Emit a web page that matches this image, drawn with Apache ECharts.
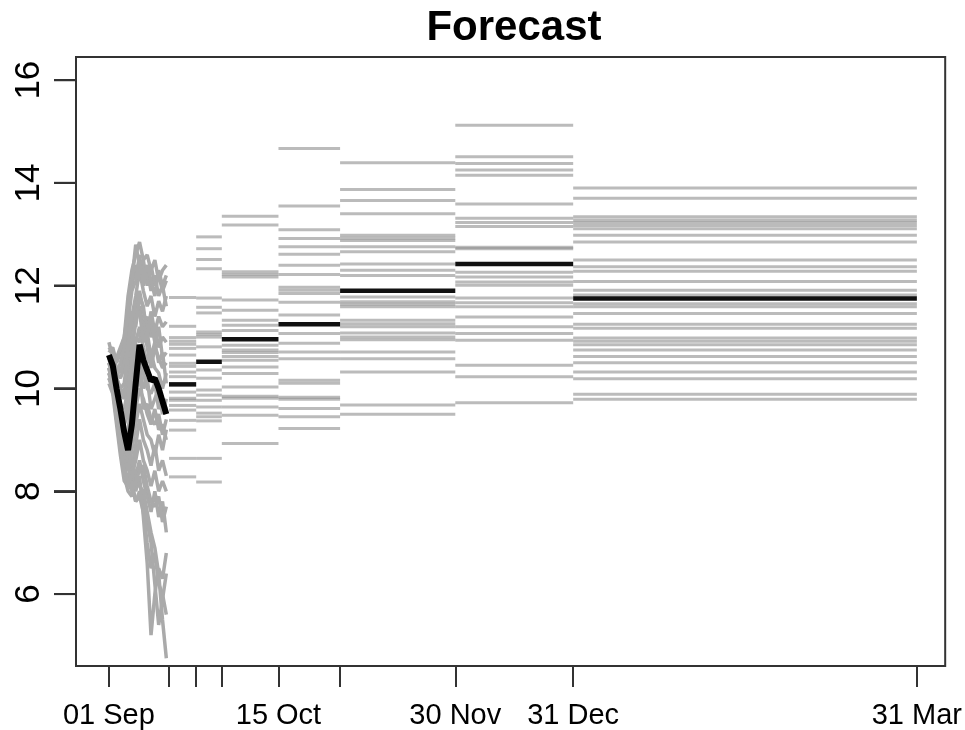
<!DOCTYPE html>
<html>
<head>
<meta charset="utf-8">
<script src="https://cdn.jsdelivr.net/npm/echarts@6/dist/echarts.min.js"></script>
<style>html,body{margin:0;padding:0;background:#fff}#c{width:965px;height:730px}</style>
</head>
<body>
<div id="c"></div>
<script>
// ---- x axis: days since 01 Sep ----
const X_MIN = -8.6, X_MAX = 218.5;
const Y_MIN = 4.6, Y_MAX = 16.45;
const tickDays = [0, 15.7, 22.8, 29.5, 44.3, 60.4, 90.5, 121.3, 211.1];
const labelDays = [0, 44.3, 90.5, 121.3, 211.1];
const labelTexts = ['01 Sep', '15 Oct', '30 Nov', '31 Dec', '31 Mar'];
const yTicks = [6, 8, 10, 12, 14, 16];

// ---- daily ensemble members (days 0..15) ----
const dailyDays = [0,1,2,3,4,5,6,7,8,9,10,11,12,13,14,15];
const m1  = [10.7,10.8,10.5,10.7,11.0,11.8,12.3,12.6,12.85,12.5,12.6,12.3,12.5,12.1,12.3,12.4];
const m2  = [10.9,10.6,10.6,10.8,11.0,11.5,12.0,12.4,12.2,12.5,12.0,12.4,12.0,12.2,11.9,12.1];
const m3  = [10.6,10.5,10.3,10.2,10.4,11.0,11.4,11.8,12.3,11.9,11.6,11.8,11.4,11.7,11.5,11.8];
const m4  = [10.5,10.3,10.1,9.9,9.8,10.3,10.8,11.3,11.6,11.2,11.4,11.0,11.2,10.8,11.0,10.9];
const m5  = [10.4,10.4,9.9,9.6,9.3,9.5,10.2,10.9,11.2,10.8,10.5,10.7,10.4,10.3,10.0,10.3];
const m6  = [10.3,10.2,9.8,9.4,9.0,8.9,9.6,10.3,10.7,10.3,10.0,9.9,10.1,9.6,9.8,9.6];
const m7  = [10.2,10.0,9.6,9.1,8.7,8.5,9.0,9.6,10.0,9.8,9.5,9.3,9.6,9.2,9.3,9.0];
const m8  = [10.4,10.1,9.5,9.0,8.5,8.2,8.4,8.9,9.4,9.0,8.8,8.5,8.9,8.4,8.6,8.3];
const m9  = [10.3,10.0,9.4,8.8,8.3,8.0,7.9,8.3,8.6,8.2,7.9,7.6,8.0,7.5,7.8,7.2];
const m10 = [10.5,10.2,9.7,9.2,8.8,8.6,8.2,7.8,7.9,7.6,7.0,6.5,6.8,6.2,6.0,5.6];
const m11 = [10.6,10.3,9.9,9.4,9.0,8.8,8.4,8.0,8.3,7.5,6.6,5.2,6.0,6.5,6.3,6.8];
const m12 = [10.4,10.2,9.8,9.3,8.9,8.5,8.1,7.8,8.0,7.8,7.4,7.0,6.2,5.4,5.9,6.4];
const m13 = [10.5,10.4,10.0,9.6,9.2,9.0,8.6,8.3,8.1,8.0,7.6,7.2,6.9,6.4,5.5,4.75];
const m14 = [10.6,10.4,10.2,10.0,9.9,10.6,11.2,11.6,11.9,11.5,11.2,11.3,10.9,11.2,10.6,10.7];
const m15 = [10.8,10.7,10.4,10.3,10.6,11.3,11.9,12.1,12.6,12.0,12.3,11.9,12.2,11.8,12.0,11.6];
const m16 = [10.5,10.6,10.2,10.0,10.1,10.8,11.5,11.2,11.8,11.6,11.0,11.5,11.1,11.4,11.2,11.3];
const m17 = [10.4,10.3,10.0,9.7,9.6,10.0,10.5,11.0,10.9,11.3,10.8,10.4,10.8,10.6,10.4,10.5];
const m18 = [10.3,10.1,9.7,9.3,9.1,9.2,9.8,10.5,10.4,10.0,10.2,9.6,9.8,10.0,9.5,9.8];
const m19 = [10.2,10.0,9.5,9.0,8.6,8.4,8.8,9.3,9.7,9.4,9.1,9.0,8.7,9.1,8.8,9.2];
const m20 = [10.1,9.9,9.3,8.7,8.2,8.1,8.3,8.6,9.0,8.6,8.4,8.1,8.4,8.0,8.2,8.0];
const m21 = [10.6,10.5,10.3,10.5,10.8,11.6,12.1,12.8,12.4,12.2,12.4,12.1,11.8,12.3,12.0,12.2];
const m22 = [10.5,10.3,9.9,9.5,9.4,9.8,10.6,11.4,11.5,10.9,11.1,10.6,10.9,10.5,10.7,10.1];
const m23 = [10.3,10.2,9.6,9.2,8.8,8.7,9.2,9.9,10.3,9.6,9.7,9.4,9.3,9.5,9.1,9.4];
const m24 = [10.4,10.0,9.4,8.9,8.4,8.2,8.0,8.2,8.4,8.5,8.1,7.8,7.7,7.9,7.4,7.7];
const dailyMean = [10.65,10.45,10.0,9.6,9.15,8.8,9.3,10.1,10.85,10.55,10.35,10.15,10.2,10.0,9.75,9.5];

// ---- aggregated periods: member levels ----
const s1 = [11.77,11.21,10.99,10.92,10.86,10.78,10.65,10.49,10.43,10.32,10.23,9.93,9.81,9.77,9.67,9.58,9.38,9.19,8.64,8.28];
const s2 = [12.95,12.72,12.51,12.33,11.76,11.58,11.47,11.10,11.05,11.0,10.81,10.36,10.2,9.97,9.87,9.77,9.64,9.52,9.45,9.37,8.64,8.18];
const s3 = [13.35,13.18,12.27,12.22,12.17,11.72,11.52,11.33,11.23,11.13,10.84,10.75,10.7,10.62,10.55,10.42,10.29,10.03,9.85,9.81,9.64,9.48,8.93];
const s4 = [14.67,13.55,13.09,12.92,12.76,12.61,12.40,12.22,11.97,11.91,11.85,11.68,11.43,11.07,10.88,10.71,10.58,10.16,10.1,9.83,9.79,9.61,9.45,9.22];
const s5 = [14.39,13.87,13.66,13.40,12.98,12.93,12.88,12.76,12.66,12.42,12.30,12.2,11.78,11.69,11.64,11.59,11.33,11.26,11.2,11.08,11.0,10.95,10.71,10.58,10.32,9.68,9.50];
const s6 = [15.12,14.51,14.38,14.25,14.15,13.59,13.31,13.23,13.15,12.75,12.72,12.26,12.17,12.07,12.01,11.76,11.67,11.59,11.39,11.20,11.07,10.94,10.45,10.23,9.72];
const s7 = [13.90,13.70,13.34,13.28,13.23,13.17,13.11,12.98,12.85,12.50,12.37,12.28,12.08,11.91,11.82,11.65,11.59,11.46,11.25,11.17,10.98,10.92,10.85,10.75,10.62,10.50,10.32,10.19,9.89,9.79];
const periodMeans = [10.08,10.52,10.96,11.25,11.90,12.42,11.75];

// ---- build ----
const members = [m1,m2,m3,m4,m5,m6,m7,m8,m9,m10,m11,m12,m13,m14,m15,m16,m17,m18,m19,m20,m21,m22,m23,m24];
const periods = [s1,s2,s3,s4,s5,s6,s7];
const GRAY = 'rgba(120,120,120,0.5)';
const FONT = '"Liberation Sans", Arial, sans-serif';

const segData = [];
periods.forEach((lev, i) => {
  const x0 = tickDays[i + 1], x1 = tickDays[i + 2];
  lev.forEach(v => segData.push([x0, x1, v]));
});
const meanSegData = periodMeans.map((v, i) => [tickDays[i + 1], tickDays[i + 2], v]);

function segRender(color, width) {
  return function (params, api) {
    const p0 = api.coord([api.value(0), api.value(2)]);
    const p1 = api.coord([api.value(1), api.value(2)]);
    return {
      type: 'line',
      shape: { x1: p0[0], y1: p0[1], x2: p1[0], y2: p1[1] },
      style: { stroke: color, lineWidth: width }
    };
  };
}

const series = [];
members.forEach(m => {
  series.push({
    type: 'line', showSymbol: false,
    data: dailyDays.map((d, i) => [d, m[i]]),
    lineStyle: { color: '#aaaaaa', width: 3.5 }
  });
});
series.push({
  type: 'custom', renderItem: segRender(GRAY, 3),
  encode: { x: [0, 1], y: 2 }, data: segData
});
series.push({
  type: 'custom', renderItem: segRender('#111', 4.5),
  encode: { x: [0, 1], y: 2 }, data: meanSegData
});
series.push({
  type: 'line', showSymbol: false,
  data: dailyDays.map((d, i) => [d, dailyMean[i]]),
  lineStyle: { color: '#000', width: 6 }
});
// y ticks and rotated y tick labels, positioned by the y scale
series.push({
  type: 'custom', clip: false, encode: { x: 0, y: 1 },
  data: yTicks.map(v => [X_MIN, v]),
  renderItem: function (params, api) {
    const v = api.value(1);
    const p = api.coord([api.value(0), v]);
    return {
      type: 'group',
      children: [
        { type: 'line', shape: { x1: p[0] - 22, y1: p[1], x2: p[0] + 1, y2: p[1] },
          style: { stroke: '#333', lineWidth: 2 }, z2: 100 },
        { type: 'text', x: p[0] - 47, y: p[1], rotation: Math.PI / 2,
          style: { text: String(v), fill: '#000', fontSize: 35, fontFamily: FONT,
            align: 'center', verticalAlign: 'middle', textAlign: 'center', textVerticalAlign: 'middle' } }
      ]
    };
  }
});

const labelMap = {};
labelDays.forEach((d, i) => { labelMap[d] = labelTexts[i]; });

const chart = echarts.init(document.getElementById('c'), null, { renderer: 'canvas' });
chart.setOption({
  animation: false,
  backgroundColor: '#fff',
  graphic: [{
    id: 'title', type: 'text', x: 514, y: 28,
    style: { text: 'Forecast', textAlign: 'center', textVerticalAlign: 'middle',
      font: 'bold 42px ' + FONT, fill: '#000' }
  }],
  grid: { left: 76, right: 17, top: 57, bottom: 63, show: true, borderColor: '#333', borderWidth: 2 },
  xAxis: {
    type: 'value', min: X_MIN, max: X_MAX,
    axisLine: { show: false, onZero: false },
    splitLine: { show: false },
    axisTick: { show: true, length: 21, customValues: tickDays, lineStyle: { color: '#333', width: 2 } },
    axisLabel: { customValues: labelDays, margin: 35, fontSize: 29, color: '#000', fontFamily: FONT,
      formatter: v => labelMap[v] || '' }
  },
  yAxis: {
    type: 'value', min: Y_MIN, max: Y_MAX,
    axisLine: { show: true, onZero: false, lineStyle: { color: '#333', width: 2 } },
    splitLine: { show: false },
    axisTick: { show: true, length: 22, customValues: yTicks, lineStyle: { color: '#333', width: 2 } },
    axisLabel: { show: false }
  },
  series: series
});

// y-axis tick marks as graphic lines as well, placed through the chart's own y scale
const gx = chart.convertToPixel({ xAxisIndex: 0 }, X_MIN);
const tickGraphics = yTicks.map((v, i) => {
  const gy = chart.convertToPixel({ yAxisIndex: 0 }, v);
  return { id: 'ytick' + i, type: 'line', z: 100,
    shape: { x1: gx - 22, y1: gy, x2: gx + 1, y2: gy },
    style: { stroke: '#333', lineWidth: 2 } };
});
chart.setOption({ graphic: tickGraphics });
</script>
</body>
</html>
